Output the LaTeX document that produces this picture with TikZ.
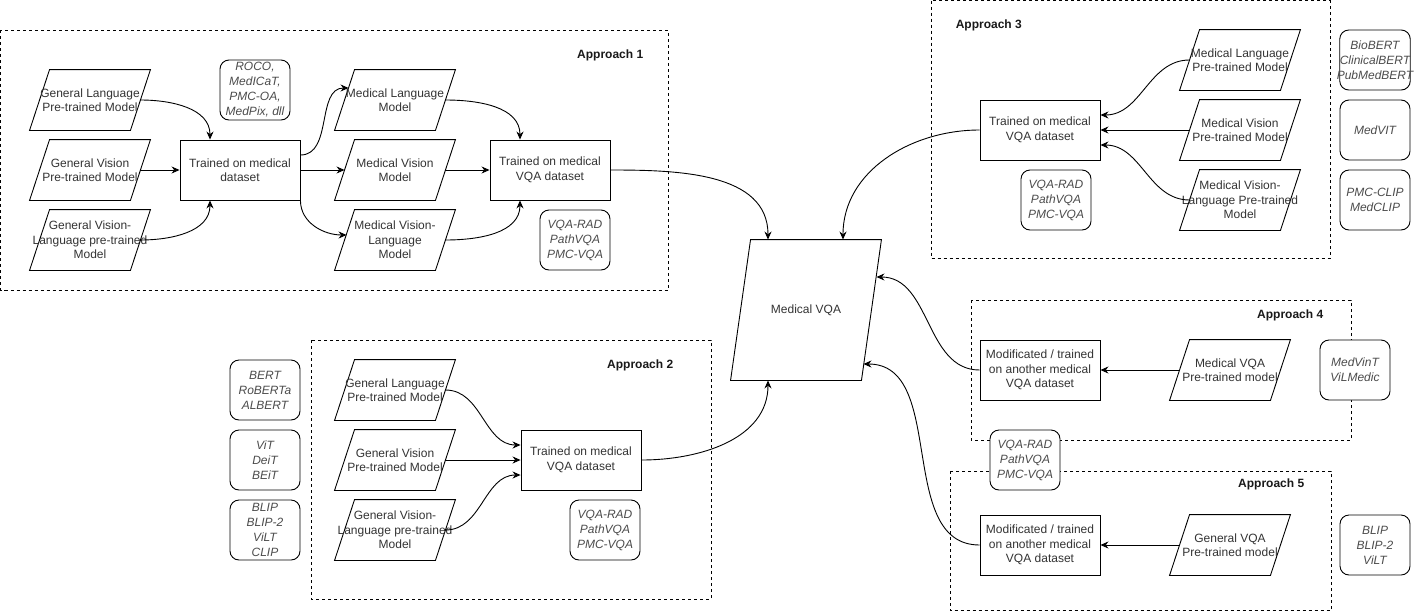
\documentclass[tikz,border=0pt]{standalone}
\usepackage{fontspec}
\setmainfont{Liberation Sans}
\usetikzlibrary{arrows.meta}
\newcommand{\slantbox}[4][]{%
\node[para,#1] (#2) at (#3) {};
\draw ([xshift=10pt]#2.north west) -- ([xshift=10pt]#2.north east) -- ([xshift=-10pt]#2.south east) -- ([xshift=-10pt]#2.south west) -- cycle;
\node[align=center] (#2-t) at (#2) {#4};
}
\begin{document}
\begin{tikzpicture}[x=1pt,y=1pt,line width=0.9pt,>={Stealth[length=8pt,width=7pt]},
every node/.style={font=\fontsize{12}{14.5}\selectfont,text=black!80},
para/.style={minimum width=100pt,minimum height=60pt,inner sep=0pt},
box/.style={draw,minimum width=120pt,minimum height=60pt,inner sep=0pt,align=center},
tag/.style={draw,fill=white,rounded corners=9pt,minimum width=70pt,minimum height=60pt,inner sep=0pt,align=center,font=\fontsize{12}{15}\selectfont\itshape,text=black!70},
frame/.style={line width=0.8pt,dash pattern=on 3pt off 3pt},
title/.style={font=\fontsize{12}{15}\selectfont\bfseries,text=black!90}]
\useasboundingbox (0,0) rectangle (1414,-611);
\draw[frame] (0.5,-30) rectangle (668,-290);
\draw[frame] (931,-0.5) rectangle (1330,-258);
\draw[frame] (311,-340) rectangle (711,-599);
\draw[frame] (971,-300) rectangle (1351,-440);
\draw[frame] (950,-471) rectangle (1331,-610.5);
\node[title,anchor=east] (ap1) at (647,-55) {Approach 1};
\node[title,anchor=west] (ap3) at (952,-25) {Approach 3};
\node[title,anchor=east] (ap2) at (677,-365) {Approach 2};
\node[title,anchor=east] (ap4) at (1327,-315) {Approach 4};
\node[title,anchor=east] (ap5) at (1308,-484) {Approach 5};
\slantbox{gl1}{90,-100}{General Language\\Pre-trained Model}
\slantbox{gv1}{90,-170}{General Vision\\Pre-trained Model}
\slantbox{gvl1}{90,-240}{General Vision-\\Language pre-trained\\Model}
\node[box] (tm1) at (240,-170) {Trained on medical\\dataset};
\node[tag] (ds1) at (255,-90) {ROCO,\\MedICaT,\\PMC-OA,\\MedPix, dll};
\slantbox{ml1}{395,-100}{Medical Language\\Model}
\slantbox{mv1}{395,-170}{Medical Vision\\Model}
\slantbox{mvl1}{395,-240}{Medical Vision-\\Language\\Model}
\node[box] (tv1) at (550,-170) {Trained on medical\\VQA dataset};
\node[tag] (ds1b) at (575,-240) {VQA-RAD\\PathVQA\\PMC-VQA};
\slantbox[minimum width=130pt,minimum height=140pt]{mvqa}{806,-310}{Medical VQA}
\node[box] (tv3) at (1040,-130) {Trained on medical\\VQA dataset};
\slantbox{ml3}{1240,-60}{Medical Language\\Pre-trained Model}
\slantbox{mv3}{1240,-130}{Medical Vision\\Pre-trained Model}
\slantbox{mvl3}{1240,-200}{Medical Vision-\\Language Pre-trained\\Model}
\node[tag] (ds3) at (1056,-200) {VQA-RAD\\PathVQA\\PMC-VQA};
\node[tag] (bio) at (1375,-60) {BioBERT\\ClinicalBERT\\\makebox[60pt]{PubMedBERT}};
\node[tag] (medvit) at (1375,-130) {MedVIT};
\node[tag] (pmcclip) at (1375,-200) {PMC-CLIP\\MedCLIP};
\node[tag] (bert) at (265,-390) {BERT\\RoBERTa\\ALBERT};
\node[tag] (vit) at (265,-460) {ViT\\DeiT\\BEiT};
\node[tag] (blip) at (265,-530) {BLIP\\BLIP-2\\ViLT\\CLIP};
\slantbox{gl2}{395,-390}{General Language\\Pre-trained Model}
\slantbox{gv2}{395,-460}{General Vision\\Pre-trained Model}
\slantbox{gvl2}{395,-530}{General Vision-\\Language pre-trained\\Model}
\node[box] (tv2) at (581,-460) {Trained on medical\\VQA dataset};
\node[tag] (ds2) at (605,-530) {VQA-RAD\\PathVQA\\PMC-VQA};
\node[box] (mt4) at (1040,-370) {Modificated / trained\\on another medical\\VQA dataset};
\slantbox{mp4}{1230,-370}{Medical VQA\\Pre-trained model}
\node[tag] (medvint) at (1355,-370) {MedVinT\\ViLMedic};
\node[tag] (ds4) at (1025,-460) {VQA-RAD\\PathVQA\\PMC-VQA};
\node[box] (mt5) at (1040,-545) {Modificated / trained\\on another medical\\VQA dataset};
\slantbox{gp5}{1230,-545}{General VQA\\Pre-trained model}
\node[tag] (blip5) at (1375,-545) {BLIP\\BLIP-2\\ViLT};
\draw[->] (gl1.east) to[out=0,in=90] ([xshift=-30pt]tm1.north);
\draw[->] (gv1.east) -- (tm1.west);
\draw[->] (gvl1.east) to[out=0,in=-90] ([xshift=-30pt]tm1.south);
\draw[->] ([yshift=15pt]tm1.east) to[out=0,in=180] ([xshift=4pt,yshift=12pt]ml1.west);
\draw[->] (tm1.east) -- (mv1.west);
\draw[->] (tm1.south east) to[out=-90,in=180] ([xshift=2pt,yshift=5pt]mvl1.west);
\draw[->] (ml1.east) to[out=0,in=90] ([xshift=-30pt]tv1.north);
\draw[->] (mv1.east) -- (tv1.west);
\draw[->] (mvl1.east) to[out=0,in=-90] ([xshift=-30pt]tv1.south);
\draw[->] (tv1.east) to[out=0,in=90] ([xshift=-38pt]mvqa.north);
\draw[->] (ml3.west) to[out=180,in=0] ([yshift=15pt]tv3.east);
\draw[->] (mv3.west) -- (tv3.east);
\draw[->] (mvl3.west) to[out=180,in=0] ([yshift=-15pt]tv3.east);
\draw[->] (tv3.west) to[out=180,in=90] ([xshift=37pt]mvqa.north);
\draw[->] (gl2.east) to[out=0,in=180] ([yshift=15pt]tv2.west);
\draw[->] (gv2.east) -- (tv2.west);
\draw[->] (gvl2.east) to[out=0,in=180] ([yshift=-15pt]tv2.west);
\draw[->] (tv2.east) to[out=0,in=-90] ([xshift=-38pt]mvqa.south);
\draw[->] (mp4.west) -- (mt4.east);
\draw[->] (mt4.west) to[out=180,in=0] ([xshift=5pt,yshift=33pt]mvqa.east);
\draw[->] (gp5.west) -- (mt5.east);
\draw[->] (mt5.west) to[out=180,in=0] ([xshift=-8pt,yshift=-54pt]mvqa.east);
\end{tikzpicture}
\end{document}
